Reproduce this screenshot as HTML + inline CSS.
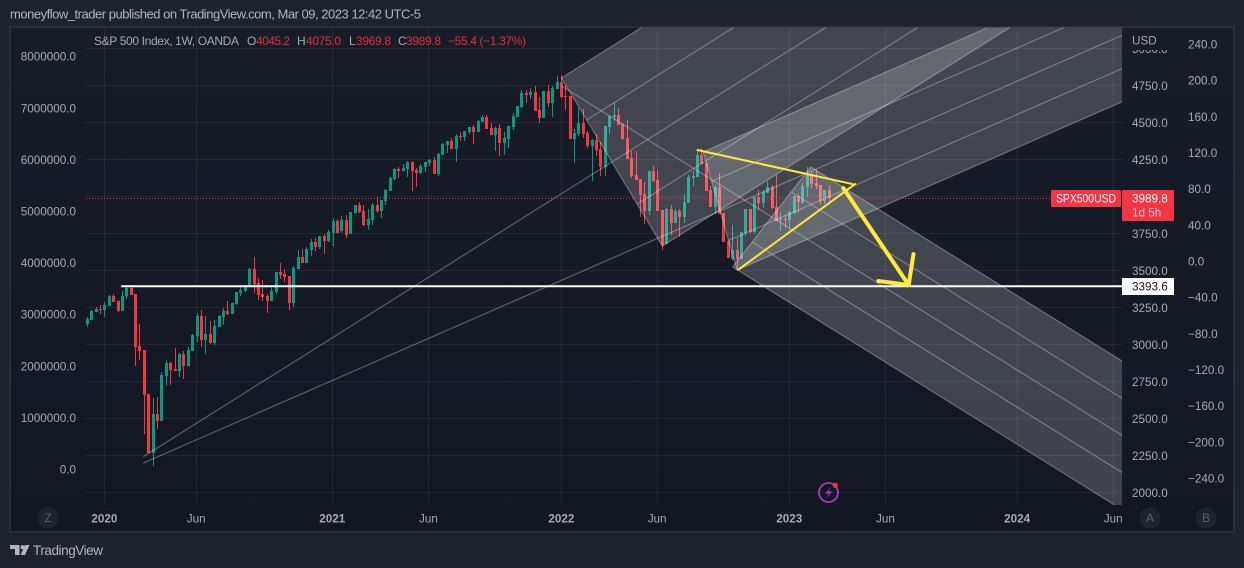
<!DOCTYPE html>
<html lang="en">
<head>
<meta charset="utf-8">
<title>S&amp;P 500 Index weekly chart</title>
<style>
  html, body { margin: 0; padding: 0; width: 1244px; height: 568px; overflow: hidden; background: #1e222d; }
  svg { display: block; font-family: "Liberation Sans", sans-serif; font-size: 12px; }
  .axis { fill: #a7aab3; font-size: 11.7px; }
  .grid { stroke: #f0f3fa; stroke-opacity: .07; stroke-width: 1; shape-rendering: crispEdges; }
  .fork-fill { fill: #fff; fill-opacity: .19; stroke: none; }
  .fork-line { stroke: #fff; stroke-opacity: .3; stroke-width: 1.2; fill: none; }
</style>
</head>
<body>
<svg id="chart" width="1244" height="568" viewBox="0 0 1244 568" xmlns="http://www.w3.org/2000/svg">
  <defs>
    <linearGradient id="paneBg" x1="0" y1="0" x2="0" y2="1">
      <stop offset="0" stop-color="#181c27"/>
      <stop offset="1" stop-color="#131722"/>
    </linearGradient>
    <clipPath id="plotClip"><rect x="86" y="27.5" width="1036" height="477.5"/></clipPath>
    <clipPath id="axisTopClip"><rect x="1122" y="50" width="52" height="12"/></clipPath>
    <clipPath id="timeClip"><rect x="86" y="505" width="1036" height="27"/></clipPath>
  </defs>

  <rect x="0" y="0" width="1244" height="568" fill="#1e222d"/>
  <text x="10" y="18.5" font-size="13" fill="#b2b5be" textLength="411" lengthAdjust="spacing">moneyflow_trader published on TradingView.com, Mar 09, 2023 12:42 UTC-5</text>
  <rect x="10" y="27" width="1224" height="505" fill="url(#paneBg)" stroke="#2a2e39" stroke-width="2"/>

  <g id="gridLayer"></g>
  <g id="candleLayer" clip-path="url(#plotClip)"></g>
  <g id="forkLayer" clip-path="url(#plotClip)"></g>
  <g id="overlayLayer" clip-path="url(#plotClip)"></g>
  <g id="axisLayer"></g>

  <g font-size="12">
    <text x="94" y="45" fill="#a7aab3" textLength="145" lengthAdjust="spacing">S&amp;P 500 Index, 1W, OANDA</text>
    <text x="247" y="45" fill="#a7aab3">O</text>
    <text x="256" y="45" fill="#e0303f" textLength="34" lengthAdjust="spacing">4045.2</text>
    <text x="297" y="45" fill="#a7aab3">H</text>
    <text x="306" y="45" fill="#e0303f" textLength="35" lengthAdjust="spacing">4075.0</text>
    <text x="349" y="45" fill="#a7aab3">L</text>
    <text x="356" y="45" fill="#e0303f" textLength="35" lengthAdjust="spacing">3969.8</text>
    <text x="398" y="45" fill="#a7aab3">C</text>
    <text x="406" y="45" fill="#e0303f" textLength="35" lengthAdjust="spacing">3989.8</text>
    <text x="448" y="45" fill="#e0303f" textLength="78" lengthAdjust="spacing">−55.4 (−1.37%)</text>
  </g>

  <g>
    <rect x="1051" y="190" width="70" height="17" fill="#f23645" rx="1"/>
    <text x="1086" y="202.5" fill="#fff" text-anchor="middle" textLength="60" lengthAdjust="spacingAndGlyphs">SPX500USD</text>
  </g>
  <g>
    <rect x="1122" y="190" width="52" height="31" fill="#f23645" rx="1"/>
    <text x="1132" y="202.5" font-size="11.7" fill="#fff">3989.8</text>
    <text x="1132" y="216.5" font-size="11.7" fill="#fbc4c9">1d 5h</text>
  </g>
  <g>
    <rect x="1122" y="278" width="52" height="17" fill="#fff"/>
    <text x="1132" y="290.5" font-size="11.7" fill="#131722">3393.6</text>
  </g>

  <g>
    <circle cx="828.5" cy="492.5" r="9.5" fill="none" stroke="#a53cc0" stroke-width="1.8"/>
    <path d="M831.5 486.5 L825 493.5 L829 493.5 L825.5 498.5 L832.5 491.5 L828.5 491.5 Z" fill="#a53cc0"/>
    <circle cx="835.3" cy="485.3" r="2.6" fill="#f23645"/>
  </g>

  <g>
    <circle cx="48" cy="518" r="10.5" fill="#1f232e"/>
    <text x="48" y="522" fill="#5d606b" text-anchor="middle">Z</text>
  </g>
  <g>
    <circle cx="1150" cy="518" r="10.5" fill="#1f232e"/>
    <text x="1150" y="522" fill="#5d606b" text-anchor="middle">A</text>
  </g>
  <g>
    <circle cx="1206" cy="518" r="10.5" fill="#1f232e"/>
    <text x="1206" y="522" fill="#5d606b" text-anchor="middle">B</text>
  </g>

  <g>
    <path d="M10 545 H19.5 V555 H15 V549 H10 Z M29.5 545 L25 555 H20.5 L25 545 Z" fill="#b2b5be"/>
    <circle cx="22.6" cy="547.2" r="2.1" fill="#b2b5be"/>
    <text x="33" y="555" font-size="13.5" fill="#b2b5be" textLength="70" lengthAdjust="spacing">TradingView</text>
  </g>
</svg>

<script>
// ---- chart data (weekly OHLC) ----
const opens = [
  3139,3166,3220,3240,3233,3260,3325,3294,3226,3325,
  3382,3341,2990,2963,2666,2267,2531,2483,2787,2875,
  2835,2821,2936,2855,2956,3058,3193,3030,3071,3010,
  3118,3186,3226,3206,3274,3348,3361,3389,3510,3416,
  3341,3328,3294,3355,3490,3476,3463,3280,3510,3591,
  3551,3638,3693,3659,3733,3699,3753,3834,3770,3841,
  3750,3889,3943,3902,3808,3841,3943,3902,3970,4037,
  4118,4186,4172,4186,4233,4179,4159,4199,4226,4247,
  4152,4281,4348,4375,4321,4409,4402,4436,4470,4436,
  4503,4537,4463,4416,4463,4362,4389,4470,4537,4605,
  4699,4686,4706,4585,4530,4713,4632,4726,4774,4679,
  4679,4389,4422,4497,4429,4341,4382,4321,4199,4470,
  4537,4551,4490,4395,4260,4145,4118,4017,3902,4172,
  4112,3909,3679,3916,3821,3902,3862,3956,4125,4132,
  4280,4226,4044,3929,4064,3889,3699,3578,3639,3578,
  3753,3916,3760,3997,3956,4024,4064,3929,3841,3848,
  3841,3889,4003,3956,4064,4145,4091,4078,3970,4045.2
];
const highs = [
  3188,3233,3253,3265,3287,3334,3341,3301,3361,3395,
  3402,3341,3139,2963,2666,2639,2645,2814,2895,2882,
  2976,2943,2954,2983,3071,3213,3233,3193,3159,3166,
  3199,3247,3294,3280,3355,3389,3402,3517,3591,3449,
  3436,3341,3402,3490,3551,3510,3463,3530,3638,3645,
  3659,3713,3720,3733,3747,3774,3855,3845,3868,3875,
  3893,3943,3963,3943,3916,3956,3997,3977,4051,4132,
  4193,4199,4220,4240,4240,4193,4220,4233,4253,4267,
  4294,4362,4375,4395,4422,4436,4443,4470,4483,4517,
  4551,4551,4497,4470,4490,4436,4476,4564,4611,4720,
  4720,4733,4747,4672,4713,4753,4747,4814,4821,4753,
  4679,4456,4598,4591,4443,4389,4422,4368,4476,4544,
  4638,4598,4497,4517,4307,4307,4118,4098,4172,4206,
  4179,3909,3922,3943,3916,3916,4017,4145,4172,4314,
  4328,4226,4071,4078,4159,3889,3699,3807,3720,3760,
  3916,3916,3997,4044,4044,4105,4078,4145,3895,3882,
  3902,4003,4017,4091,4199,4172,4179,4078,4044,4075
];
const lows = [
  3118,3166,3220,3206,3186,3260,3287,3222,3226,3307,
  3334,2857,2895,2395,2267,2179,2429,2483,2720,2726,
  2821,2781,2767,2855,2956,3017,2983,2936,3003,2997,
  3118,3132,3199,3206,3267,3328,3355,3389,3348,3301,
  3294,3213,3294,3341,3443,3422,3233,3253,3510,3551,
  3551,3598,3632,3645,3611,3693,3666,3756,3756,3720,
  3745,3889,3889,3801,3774,3808,3889,3855,3943,4037,
  4112,4125,4172,4132,4037,4064,4152,4166,4206,4152,
  4139,4281,4294,4321,4233,4375,4375,4422,4355,4436,
  4503,4456,4416,4308,4274,4281,4328,4449,4537,4598,
  4632,4659,4578,4497,4530,4605,4537,4726,4666,4584,
  4389,4226,4409,4395,4328,4105,4274,4139,4139,4422,
  4510,4483,4382,4253,4125,4112,3862,3814,3875,4098,
  3902,3639,3679,3740,3821,3726,3821,3956,4071,4132,
  4220,4037,3929,3882,3882,3693,3585,3571,3497,3578,
  3733,3747,3747,3909,3922,4024,3916,3834,3767,3787,
  3787,3882,3889,3949,3997,4057,4051,3943,3949,3969.8
];
const closes = [
  3172,3226,3238,3235,3265,3328,3287,3226,3328,3382,
  3334,2983,2956,2659,2267,2531,2483,2794,2875,2828,
  2821,2936,2855,2963,3064,3193,3030,3071,3010,3125,
  3193,3226,3206,3280,3355,3368,3395,3510,3409,3334,
  3321,3294,3361,3490,3470,3456,3280,3517,3591,3551,
  3645,3693,3659,3733,3699,3760,3834,3756,3841,3740,
  3893,3943,3895,3808,3848,3943,3902,3977,4044,4125,
  4186,4172,4193,4233,4172,4159,4206,4233,4247,4152,
  4287,4355,4375,4321,4409,4402,4443,4470,4436,4510,
  4537,4456,4416,4463,4362,4395,4476,4544,4611,4699,
  4686,4706,4578,4530,4713,4632,4733,4774,4672,4672,
  4389,4429,4497,4422,4341,4382,4314,4199,4476,4544,
  4551,4483,4389,4253,4139,4112,4010,3902,4172,4105,
  3902,3672,3916,3821,3902,3862,3963,4132,4139,4280,
  4220,4037,3929,4064,3882,3693,3585,3639,3578,3760,
  3916,3760,3997,3956,4030,4064,3922,3834,3848,3841,
  3895,4003,3963,4071,4145,4085,4071,3970,4044,3989.8
];
const timeTickLabels = ["2020","Jun","2021","Jun","2022","Jun","2023","Jun","2024","Jun"];
const timeTickWeeks  = [3.9,24.8,55.8,77.7,108,129.8,159.9,181.8,211.8,233.7];
const priceTicks = [5000,4750,4500,4250,4000,3750,3500,3250,3000,2750,2500,2250,2000];
const priceTickLabels = ["5000.0","4750.0","4500.0","4250.0","","3750.0","3500.0","3250.0","3000.0","2750.0","2500.0","2250.0","2000.0"];
const leftScaleTicks = [8000000,7000000,6000000,5000000,4000000,3000000,2000000,1000000,0];
const leftScaleLabels = ["8000000.0","7000000.0","6000000.0","5000000.0","4000000.0","3000000.0","2000000.0","1000000.0","0.0"];
const rightScaleTicks = [240,200,160,120,80,40,0,-40,-80,-120,-160,-200,-240];
const rightScaleLabels = ["240.0","200.0","160.0","120.0","80.0","40.0","0.0","−40.0","−80.0","−120.0","−160.0","−200.0","−240.0"];
const lastClose = 3989.8;
const levelPrice = 3393.6;
const levelStartWeek = 7.7;
// pitchfork anchors as [week, price]: handle, upper pivot, lower pivot
const forkOneAnchors = [[12.76,2242],[108,4801],[131,3665.5]];
const forkTwoAnchors = [[12.76,2199],[140.3,4301],[148,3503]];
const forkThreeAnchors = [[108,4747],[164.8,4199],[147,3524]];
// drawn trend lines as [week, price] pairs
const resistanceLine = [[139,4314],[174.3,4084]];
const supportLine = [[148.5,3510],[174.9,4084]];
const arrowShaft = [[172.2,4057],[187.1,3402]];
const arrowHeadLeft = [180.2,3429];
const arrowHeadRight = [188.2,3611];

// ---- axis functions ----
function xOf(week) { return 87.3 + week * 4.39; }
function yOf(price) { return 85.5 + (4750 - price) * 0.148; }
function yLeft(value) { return 469 - value / 1000000 * 51.6; }
function yRight(value) { return 261 - value * 0.904; }

const plotLeft = 86, plotRight = 1122, plotTop = 27.5, plotBottom = 505;

const NS = 'http://www.w3.org/2000/svg';
function make(tag, attrs, parent) {
  const el = document.createElementNS(NS, tag);
  for (const k in attrs) el.setAttribute(k, attrs[k]);
  parent.appendChild(el);
  return el;
}
const gridLayer = document.getElementById('gridLayer');
const candleLayer = document.getElementById('candleLayer');
const forkLayer = document.getElementById('forkLayer');
const overlayLayer = document.getElementById('overlayLayer');
const axisLayer = document.getElementById('axisLayer');

// ---- geometry clipping so nothing extends past the plot ----
function clipLine(P, Q) {
  let t0 = 0, t1 = 1;
  const dx = Q[0] - P[0], dy = Q[1] - P[1];
  const tests = [[-dx, P[0] - plotLeft], [dx, plotRight - P[0]], [-dy, P[1] - plotTop], [dy, plotBottom - P[1]]];
  for (const test of tests) {
    const p = test[0], q = test[1];
    if (p === 0) { if (q < 0) return null; continue; }
    const r = q / p;
    if (p < 0) { if (r > t1) return null; if (r > t0) t0 = r; }
    else { if (r < t0) return null; if (r < t1) t1 = r; }
  }
  return [[P[0] + dx * t0, P[1] + dy * t0], [P[0] + dx * t1, P[1] + dy * t1]];
}
function clipPolygon(points) {
  const edges = [
    function (p) { return p[0] >= plotLeft; }, function (p) { return p[0] <= plotRight; },
    function (p) { return p[1] >= plotTop; }, function (p) { return p[1] <= plotBottom; }
  ];
  const cross = [
    function (a, b) { const t = (plotLeft - a[0]) / (b[0] - a[0]); return [plotLeft, a[1] + (b[1] - a[1]) * t]; },
    function (a, b) { const t = (plotRight - a[0]) / (b[0] - a[0]); return [plotRight, a[1] + (b[1] - a[1]) * t]; },
    function (a, b) { const t = (plotTop - a[1]) / (b[1] - a[1]); return [a[0] + (b[0] - a[0]) * t, plotTop]; },
    function (a, b) { const t = (plotBottom - a[1]) / (b[1] - a[1]); return [a[0] + (b[0] - a[0]) * t, plotBottom]; }
  ];
  let out = points;
  edges.forEach(function (inside, e) {
    const input = out;
    out = [];
    input.forEach(function (cur, i) {
      const prev = input[(i + input.length - 1) % input.length];
      if (inside(cur)) {
        if (!inside(prev)) out.push(cross[e](prev, cur));
        out.push(cur);
      } else if (inside(prev)) {
        out.push(cross[e](prev, cur));
      }
    });
  });
  return out;
}

// ---- grid ----
timeTickWeeks.forEach(function (w) {
  const x = Math.round(xOf(w)) + 0.5;
  const el = make('line', {x1: x, x2: x, y1: 28, y2: 505, 'class': 'grid'}, gridLayer);
  
  
});
priceTicks.forEach(function (p) {
  const y = Math.floor(yOf(p)) + 0.5;
  const el = make('line', {x1: 86, x2: 1122, y1: y, y2: y, 'class': 'grid'}, gridLayer);
  
  
});

// ---- candles ----
closes.forEach(function (c, i) {
  const o = opens[i], h = highs[i], l = lows[i];
  const colour = c >= o ? '#089981' : '#f23645';
  const cx = Math.floor(xOf(i));
  const g = make('g', {fill: colour}, candleLayer);
  
  
  const wy1 = Math.round(yOf(h)), wy2 = Math.round(yOf(l));
  make('rect', {x: cx, y: wy1, width: 1, height: Math.max(1, wy2 - wy1), 'shape-rendering': 'crispEdges'}, g);
  const by1 = Math.round(yOf(Math.max(o, c))), by2 = Math.round(yOf(Math.min(o, c)));
  make('rect', {x: cx - 1, y: by1, width: 3, height: Math.max(1, by2 - by1), 'shape-rendering': 'crispEdges'}, g);
});

// ---- pitchforks ----
function drawFork(anchors, name) {
  const A = [xOf(anchors[0][0]), yOf(anchors[0][1])];
  const B = [xOf(anchors[1][0]), yOf(anchors[1][1])];
  const C = [xOf(anchors[2][0]), yOf(anchors[2][1])];
  const M = [(B[0] + C[0]) / 2, (B[1] + C[1]) / 2];
  const dx = M[0] - A[0], dy = M[1] - A[1];
  const n = 1500 / Math.sqrt(dx * dx + dy * dy);
  const far = function (P) { return [P[0] + dx * n, P[1] + dy * n]; };
  const g = make('g', {}, forkLayer);
  
  
  const shape = clipPolygon([B, far(B), far(C), C]);
  const poly = make('polygon', {points: shape.map(function (p) { return p.join(','); }).join(' '), 'class': 'fork-fill'}, g);
  
  
  [0, 0.25, 0.75, 1].forEach(function (t) {
    const P = [B[0] + (C[0] - B[0]) * t, B[1] + (C[1] - B[1]) * t];
    const seg = clipLine(P, far(P));
    if (!seg) return;
    const tine = make('line', {x1: seg[0][0], y1: seg[0][1], x2: seg[1][0], y2: seg[1][1], 'class': 'fork-line'}, g);
    
    
  });
  const medSeg = clipLine(A, far(M));
  const median = make('line', {x1: medSeg[0][0], y1: medSeg[0][1], x2: medSeg[1][0], y2: medSeg[1][1], 'class': 'fork-line'}, g);
  
  
  const base = make('line', {x1: B[0], y1: B[1], x2: C[0], y2: C[1], 'class': 'fork-line'}, g);
  
  
}
drawFork(forkOneAnchors, 'pitchfork-rising-one');
drawFork(forkTwoAnchors, 'pitchfork-rising-two');
drawFork(forkThreeAnchors, 'pitchfork-falling');

// ---- overlays ----
const lastLine = make('line', {x1: 86, x2: 1051, y1: Math.round(yOf(lastClose)) + 0.5, y2: Math.round(yOf(lastClose)) + 0.5, stroke: '#f23645', 'stroke-width': 1, 'stroke-dasharray': '1 2'}, overlayLayer);



const levelLine = make('line', {x1: xOf(levelStartWeek), x2: 1122, y1: yOf(levelPrice), y2: yOf(levelPrice), stroke: '#ffffff', 'stroke-width': 2}, overlayLayer);



function yellow(a, b, width) {
  return make('line', {x1: xOf(a[0]), y1: yOf(a[1]), x2: xOf(b[0]), y2: yOf(b[1]), stroke: '#ffeb3b', 'stroke-width': width, 'stroke-linecap': 'round'}, overlayLayer);
}
const resEl = yellow(resistanceLine[0], resistanceLine[1], 2);


const supEl = yellow(supportLine[0], supportLine[1], 2);


const shaftEl = yellow(arrowShaft[0], arrowShaft[1], 4);


const headLeftEl = yellow(arrowHeadLeft, arrowShaft[1], 4);


const headRightEl = yellow(arrowHeadRight, arrowShaft[1], 4);



// ---- axes ----
leftScaleLabels.forEach(function (label, i) {
  const t = make('text', {x: 76, y: yLeft(leftScaleTicks[i]) + 4.5, 'text-anchor': 'end', 'class': 'axis'}, axisLayer);
  t.textContent = label;
  
  
});
priceTickLabels.forEach(function (label, i) {
  if (!label) return;
  const attrs = {x: 1132, y: yOf(priceTicks[i]) + 4.5, 'class': 'axis'};
  if (priceTicks[i] === 5000) attrs['clip-path'] = 'url(#axisTopClip)';
  const t = make('text', attrs, axisLayer);
  t.textContent = label;
  
  
});
const usd = make('text', {x: 1132, y: 44.5, 'class': 'axis'}, axisLayer);
usd.textContent = 'USD';


rightScaleLabels.forEach(function (label, i) {
  const t = make('text', {x: 1188, y: yRight(rightScaleTicks[i]) + 4.5, 'class': 'axis'}, axisLayer);
  t.textContent = label;
  
  
});
timeTickLabels.forEach(function (label, i) {
  const isYear = label !== 'Jun';
  const t = make('text', {x: xOf(timeTickWeeks[i]), y: 522.5, 'text-anchor': 'middle', 'class': 'axis', 'clip-path': 'url(#timeClip)', 'font-weight': isYear ? 'bold' : 'normal'}, axisLayer);
  t.textContent = label;
  
  
});
</script>
</body>
</html>
